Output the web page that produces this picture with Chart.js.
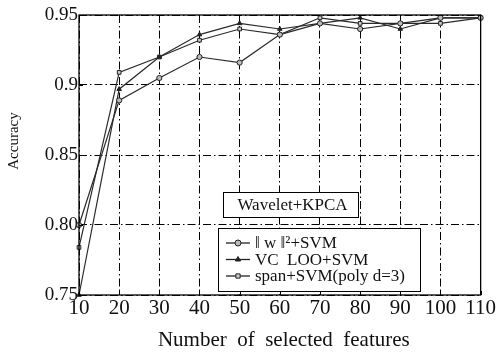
<!DOCTYPE html>
<html><head><meta charset="utf-8">
<script src="https://cdn.jsdelivr.net/npm/chart.js@4"></script>
<style>html,body{margin:0;padding:0;background:#fff}#wrap{width:497px;height:353px}</style>
</head><body><div id="wrap"><canvas id="c" width="497" height="353"></canvas></div>
<script>
const features = [10, 20, 30, 40, 50, 60, 70, 80, 90, 100, 110];
const wNormSVM = [0.800, 0.889, 0.905, 0.920, 0.916, 0.936, 0.944, 0.940, 0.944, 0.948, 0.948];
const vcLooSVM = [0.750, 0.897, 0.920, 0.936, 0.944, 0.940, 0.944, 0.948, 0.940, 0.948, 0.948];
const spanSVM  = [0.784, 0.909, 0.920, 0.932, 0.940, 0.936, 0.948, 0.944, 0.944, 0.944, 0.948];
const yTicks = [0.75, 0.80, 0.85, 0.9, 0.95];
const yTickLabels = ['0.75', '0.80', '0.85', '0.9', '0.95'];
const seriesNames = ['\u2016 w \u2016\u00b2+SVM', 'VC  LOO+SVM', 'span+SVM(poly d=3)'];
const boxTitle = 'Wavelet+KPCA';
const xTitle = 'Number  of  selected  features';
const yTitle = 'Accuracy';

const FONT = '"Liberation Serif", "DejaVu Serif", serif';
const pts = arr => features.map((x, i) => ({x, y: arr[i]}));

const frame = {
  id: 'frame',
  afterDraw(chart) {
    const {ctx, chartArea: a, scales} = chart;
    ctx.save();
    // inner ticks
    ctx.strokeStyle = '#000'; ctx.lineWidth = 1; ctx.setLineDash([]);
    features.forEach(v => {
      const x = Math.round(scales.x.getPixelForValue(v)) + 0.5;
      ctx.beginPath(); ctx.moveTo(x, a.bottom); ctx.lineTo(x, a.bottom - 4); ctx.stroke();
    });
    yTicks.forEach(v => {
      const y = Math.round(scales.y.getPixelForValue(v)) + 0.5;
      ctx.beginPath(); ctx.moveTo(a.left, y); ctx.lineTo(a.left + 4, y); ctx.stroke();
    });
    ctx.lineWidth = 1.3;
    ctx.strokeRect(a.left, a.top, a.right - a.left, a.bottom - a.top);
    // axis titles
    ctx.fillStyle = '#111'; ctx.textAlign = 'center'; ctx.textBaseline = 'middle';
    ctx.font = '21px ' + FONT;
    ctx.fillText(xTitle, (a.left + a.right) / 2 + 4, 340);
    ctx.save();
    ctx.translate(14, 141); ctx.rotate(-Math.PI / 2);
    ctx.font = '15px ' + FONT;
    ctx.fillText(yTitle, 0, 0);
    ctx.restore();
    // title box
    const bx = 223, by = 192, bw = 135, bh = 25;
    ctx.fillStyle = '#fff'; ctx.fillRect(bx, by, bw, bh);
    ctx.lineWidth = 1; ctx.strokeStyle = '#000'; ctx.strokeRect(bx + 0.5, by + 0.5, bw, bh);
    ctx.fillStyle = '#111'; ctx.font = '17px ' + FONT; ctx.textAlign = 'center'; ctx.textBaseline = 'middle';
    ctx.fillText(boxTitle, bx + bw / 2 + 2, by + bh / 2 + 1);
    // legend
    const lx = 218, ly = 228, lw = 202, lh = 63;
    ctx.fillStyle = '#fff'; ctx.fillRect(lx, ly, lw, lh);
    ctx.strokeRect(lx + 0.5, ly + 0.5, lw, lh);
    ctx.textAlign = 'left';
    chart.data.datasets.forEach((ds, i) => {
      const yy = ly + 15 + i * 16.5;
      ctx.strokeStyle = '#222'; ctx.lineWidth = 1.3;
      ctx.beginPath(); ctx.moveTo(lx + 8, yy); ctx.lineTo(lx + 32, yy); ctx.stroke();
      ctx.fillStyle = ds.pointBackgroundColor; ctx.strokeStyle = '#222'; ctx.lineWidth = 1;
      Chart.helpers.drawPoint(ctx, {pointStyle: ds.pointStyle, radius: 3, borderWidth: 1}, lx + 20, yy);
      ctx.fillStyle = '#111'; ctx.font = '17px ' + FONT;
      ctx.fillText(ds.label, lx + 37, yy + 1);
    });
    ctx.restore();
  }
};

const dash = [8, 3, 1.5, 3];
new Chart(document.getElementById('c'), {
  type: 'line',
  data: {
    datasets: [
      {label: seriesNames[0], data: pts(wNormSVM), pointStyle: 'circle', pointBackgroundColor: '#bbb'},
      {label: seriesNames[1], data: pts(vcLooSVM), pointStyle: 'triangle', pointBackgroundColor: '#222'},
      {label: seriesNames[2], data: pts(spanSVM), pointStyle: 'rect', pointBackgroundColor: '#ccc'}
    ].map(d => Object.assign({
      borderColor: '#2a2a2a', borderWidth: 1.2, pointRadius: 2.6, pointBorderColor: '#222',
      pointBorderWidth: 1, tension: 0, clip: false, fill: false
    }, d))
  },
  plugins: [frame],
  options: {
    responsive: false, animation: false,
    layout: {padding: {top: 15, right: 14, left: 0, bottom: 0}},
    plugins: {legend: {display: false}, tooltip: {enabled: false}},
    scales: {
      x: {
        type: 'linear', min: 10, max: 110,
        afterFit: s => { s.height = 58; },
        ticks: {stepSize: 10, color: '#111', font: {family: FONT, size: 21}, padding: 1, maxRotation: 0},
        grid: {color: '#000', lineWidth: 1, drawTicks: false},
        border: {display: false, dash: dash},
        title: {display: false}
      },
      y: {
        min: 0.75, max: 0.95,
        afterFit: s => { s.width = 79; },
        afterBuildTicks: s => { s.ticks = yTicks.map(v => ({value: v})); },
        ticks: {color: '#111', font: {family: FONT, size: 19}, padding: 1,
                callback: (v) => yTickLabels[yTicks.findIndex(t => Math.abs(t - v) < 1e-9)]},
        grid: {color: '#000', lineWidth: 1, drawTicks: false},
        border: {display: false, dash: dash},
        title: {display: false}
      }
    }
  }
});
</script></body></html>
